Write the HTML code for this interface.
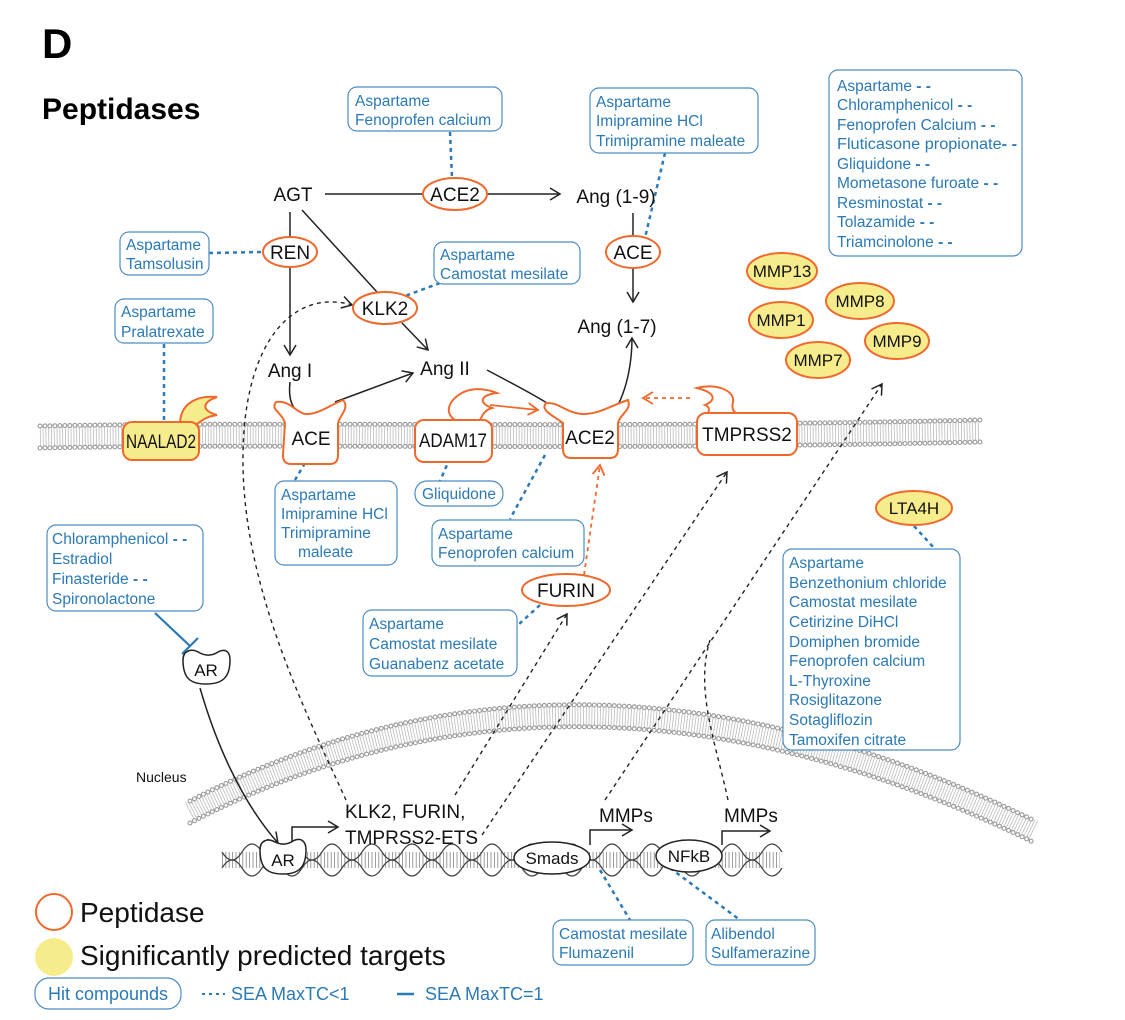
<!DOCTYPE html>
<html><head><meta charset="utf-8"><style>
html,body{margin:0;padding:0;background:#fff}
svg{display:block}
text{font-family:"Liberation Sans",Arial,sans-serif}
.b{fill:#2b79b5;font-size:15.5px}
.n{fill:#111;font-size:19px}
.m{fill:#111;font-size:17px}
.box{fill:#fff;stroke:#4a8cc4;stroke-width:1.2}
.pe{fill:#fff;stroke:#f0692c;stroke-width:2}
.py{fill:#f6ec8c;stroke:#f0692c;stroke-width:2}
.bd{stroke:#2b79b5;stroke-width:2.5;stroke-dasharray:4 4;fill:none}
.kd{stroke:#222;stroke-width:1.4;stroke-dasharray:4 4;fill:none}
.k{stroke:#222;stroke-width:1.5;fill:none}
</style></head><body>
<svg width="1125" height="1020" viewBox="0 0 1125 1020" xmlns="http://www.w3.org/2000/svg">
<defs>
<marker id="a" markerWidth="14" markerHeight="14" refX="11" refY="7" orient="auto" markerUnits="userSpaceOnUse"><path d="M1,1 L11,7 L1,13" fill="none" stroke="#222" stroke-width="1.5"/></marker>
<marker id="ao" markerWidth="14" markerHeight="14" refX="11" refY="7" orient="auto" markerUnits="userSpaceOnUse"><path d="M1,1 L11,7 L1,13" fill="none" stroke="#f0692c" stroke-width="1.8"/></marker>
</defs>

<text x="42" y="58" font-size="42" font-weight="bold" fill="#000">D</text>
<text x="42" y="119" font-size="30" font-weight="bold" fill="#000">Peptidases</text>

<!-- cell membrane -->
<g>
<path d="M40,437 C300,432 600,440 980,431" stroke="#bbb" stroke-width="22" stroke-dasharray="0.8 2" fill="none"/>
<path d="M40,426 C300,421 600,429 980,420" stroke="#999" stroke-width="5" stroke-dasharray="0 5" stroke-linecap="round" fill="none"/>
<path d="M40,426 C300,421 600,429 980,420" stroke="#fff" stroke-width="2.8" stroke-dasharray="0 5" stroke-linecap="round" fill="none"/>
<path d="M40,448 C300,443 600,451 980,442" stroke="#999" stroke-width="5" stroke-dasharray="0 5" stroke-linecap="round" fill="none"/>
<path d="M40,448 C300,443 600,451 980,442" stroke="#fff" stroke-width="2.8" stroke-dasharray="0 5" stroke-linecap="round" fill="none"/>
</g>
<!-- nucleus membrane -->
<g>
<path d="M190,812 Q580,610 1035,832" stroke="#bbb" stroke-width="22" stroke-dasharray="0.8 2" fill="none"/>
<path d="M190,801 Q580,599 1035,821" stroke="#999" stroke-width="5" stroke-dasharray="0 5" stroke-linecap="round" fill="none"/>
<path d="M190,801 Q580,599 1035,821" stroke="#fff" stroke-width="2.8" stroke-dasharray="0 5" stroke-linecap="round" fill="none"/>
<path d="M190,823 Q580,621 1035,843" stroke="#999" stroke-width="5" stroke-dasharray="0 5" stroke-linecap="round" fill="none"/>
<path d="M190,823 Q580,621 1035,843" stroke="#fff" stroke-width="2.8" stroke-dasharray="0 5" stroke-linecap="round" fill="none"/>
</g>
<text x="136" y="782" font-size="14" fill="#111">Nucleus</text>

<!-- DNA -->
<g>
<path d="M222,860 L780,860" stroke="#666" stroke-width="16" stroke-dasharray="0.8 2.6" fill="none" opacity="0.8"/>
<path d="M222,868 q10,-16 20,0 q10,16 20,0 q10,-16 20,0 q10,16 20,0 q10,-16 20,0 q10,16 20,0 q10,-16 20,0 q10,16 20,0 q10,-16 20,0 q10,16 20,0 q10,-16 20,0 q10,16 20,0 q10,-16 20,0 q10,16 20,0 q10,-16 20,0 q10,16 20,0 q10,-16 20,0 q10,16 20,0 q10,-16 20,0 q10,16 20,0 q10,-16 20,0 q10,16 20,0 q10,-16 20,0 q10,16 20,0 q10,-16 20,0 q10,16 20,0 q10,-16 20,0 q10,16 20,0" stroke="#444" stroke-width="1.2" fill="none"/>
<path d="M222,852 q10,16 20,0 q10,-16 20,0 q10,16 20,0 q10,-16 20,0 q10,16 20,0 q10,-16 20,0 q10,16 20,0 q10,-16 20,0 q10,16 20,0 q10,-16 20,0 q10,16 20,0 q10,-16 20,0 q10,16 20,0 q10,-16 20,0 q10,16 20,0 q10,-16 20,0 q10,16 20,0 q10,-16 20,0 q10,16 20,0 q10,-16 20,0 q10,16 20,0 q10,-16 20,0 q10,16 20,0 q10,-16 20,0 q10,16 20,0 q10,-16 20,0 q10,16 20,0 q10,-16 20,0" stroke="#444" stroke-width="1.2" fill="none"/>
</g>

<!-- black dashed long connectors -->
<path class="kd" d="M346,800 C300,700 230,560 245,420 C255,330 300,290 352,305" marker-end="url(#a)"/>
<path class="kd" d="M455,795 L567,614" marker-end="url(#a)"/>
<path class="kd" d="M482,835 L727,472" marker-end="url(#a)"/>
<path class="kd" d="M605,800 L882,384" marker-end="url(#a)"/>
<path class="kd" d="M728,800 C715,740 695,690 710,640"/>

<!-- solid pathway lines -->
<path class="k" d="M325,194 L422,194"/>
<path class="k" d="M488,194 L560,194" marker-end="url(#a)"/>
<path class="k" d="M290,212 L290,237"/>
<path class="k" d="M290,268 L290,355" marker-end="url(#a)"/>
<path class="k" d="M302,210 L377,292"/>
<path class="k" d="M402,323 L428,350" marker-end="url(#a)"/>
<path class="k" d="M633,213 L633,236"/>
<path class="k" d="M633,268 L633,302" marker-end="url(#a)"/>
<path class="k" d="M290,382 C288,400 292,410 305,418"/>
<path class="k" d="M335,402 L413,373" marker-end="url(#a)"/>
<path class="k" d="M487,370 C515,385 535,395 550,405"/>
<path class="k" d="M618,405 C628,385 632,360 632,338" marker-end="url(#a)"/>
<path class="k" d="M200,688 C215,740 240,800 278,843" marker-end="url(#a)"/>
<path class="k" d="M292,843 L292,827 L338,827" marker-end="url(#a)"/>
<path class="k" d="M590,845 L590,830 L632,830" marker-end="url(#a)"/>
<path class="k" d="M722,845 L722,831 L770,831" marker-end="url(#a)"/>

<!-- orange arrows -->
<path d="M490,405 L538,410" stroke="#f0692c" stroke-width="1.8" fill="none" marker-end="url(#ao)"/>
<path d="M690,398 L643,398" stroke="#f0692c" stroke-width="1.8" stroke-dasharray="4 4" fill="none" marker-end="url(#ao)"/>
<path d="M584,575 L600,465" stroke="#f0692c" stroke-width="1.8" stroke-dasharray="4 4" fill="none" marker-end="url(#ao)"/>

<!-- blue connectors -->
<path class="bd" d="M450,132 L452,178"/>
<path class="bd" d="M665,153 L645,238"/>
<path class="bd" d="M209,253 L262,252"/>
<path class="bd" d="M440,283 L405,296"/>
<path class="bd" d="M164,344 L164,424"/>
<path class="bd" d="M305,463 L295,480"/>
<path class="bd" d="M450,458 L440,481"/>
<path class="bd" d="M545,455 L510,519"/>
<path class="bd" d="M540,605 L518,625"/>
<path class="bd" d="M914,526 L935,549"/>
<path class="bd" d="M600,870 L630,920"/>
<path class="bd" d="M670,868 L740,920"/>
<path d="M155,613 L190,646 M182,654 L198,638" stroke="#2b79b5" stroke-width="2.2" fill="none"/>

<!-- peptidase ellipses -->
<ellipse class="pe" cx="455" cy="194" rx="32" ry="16"/><text class="n" x="455" y="201" text-anchor="middle">ACE2</text>
<ellipse class="pe" cx="290" cy="252" rx="27" ry="15"/><text class="n" x="290" y="259" text-anchor="middle">REN</text>
<ellipse class="pe" cx="385" cy="308" rx="32" ry="16"/><text class="n" x="385" y="315" text-anchor="middle">KLK2</text>
<ellipse class="pe" cx="633" cy="252" rx="27" ry="16"/><text class="n" x="633" y="259" text-anchor="middle">ACE</text>
<ellipse class="pe" cx="566" cy="590" rx="44" ry="16"/><text class="n" x="566" y="597" text-anchor="middle">FURIN</text>
<text class="n" x="293" y="201" text-anchor="middle">AGT</text>
<text class="n" x="616" y="203" text-anchor="middle">Ang (1-9)</text>
<text class="n" x="617" y="333" text-anchor="middle">Ang (1-7)</text>
<text class="n" x="290" y="377" text-anchor="middle">Ang I</text>
<text class="n" x="445" y="375" text-anchor="middle">Ang II</text>

<!-- MMPs -->
<ellipse class="py" cx="782" cy="271" rx="35" ry="18"/><text class="m" x="782" y="277" text-anchor="middle">MMP13</text>
<ellipse class="py" cx="860" cy="301" rx="34" ry="18"/><text class="m" x="860" y="307" text-anchor="middle">MMP8</text>
<ellipse class="py" cx="781" cy="320" rx="32" ry="18"/><text class="m" x="781" y="326" text-anchor="middle">MMP1</text>
<ellipse class="py" cx="897" cy="341" rx="32" ry="18"/><text class="m" x="897" y="347" text-anchor="middle">MMP9</text>
<ellipse class="py" cx="818" cy="360" rx="32" ry="18"/><text class="m" x="818" y="366" text-anchor="middle">MMP7</text>
<ellipse class="py" cx="914" cy="508" rx="38" ry="17"/><text class="m" x="914" y="514" text-anchor="middle">LTA4H</text>

<!-- membrane proteins -->
<path class="py" d="M180,424 C180,405 195,395 217,397 C203,402 200,410 217,415 C205,417 203,420 197,424 Z"/>
<rect class="py" x="123" y="422" width="76" height="38" rx="9"/><text class="n" x="161" y="448" text-anchor="middle" textLength="70" lengthAdjust="spacingAndGlyphs">NAALAD2</text>
<path class="pe" d="M285,423 C282,412 270,410 276,402 C290,400 295,412 305,414 C318,415 330,405 343,400 C350,408 340,415 338,423 L338,455 Q338,464 330,464 L291,464 Q283,464 283,455 Z"/>
<text class="n" x="311" y="445" text-anchor="middle">ACE</text>
<path class="pe" d="M455,420 C440,410 455,393 470,390 C478,388 490,390 497,393 C480,395 478,403 492,408 C485,410 483,414 480,420 Z"/>
<rect class="pe" x="415" y="420" width="77" height="42" rx="9"/><text class="n" x="453" y="447" text-anchor="middle" textLength="68" lengthAdjust="spacingAndGlyphs">ADAM17</text>
<path class="pe" d="M563,423 C552,415 540,410 546,403 C560,402 565,413 583,414 C600,414 612,405 628,400 C632,410 620,414 618,423 L618,449 Q618,458 610,458 L571,458 Q563,458 563,449 Z"/>
<text class="n" x="590" y="444" text-anchor="middle">ACE2</text>
<path class="pe" d="M703,423 C707,414 713,408 705,405 C713,402 720,394 697,388 C715,383 735,390 733,402 C731,410 735,414 740,414 L745,414"/>
<rect class="pe" x="697" y="413" width="100" height="42" rx="9"/><text class="n" x="747" y="441" text-anchor="middle">TMPRSS2</text>

<!-- AR -->
<path d="M183,660 C183,650 192,648 200,653 C206,656 212,656 218,652 C226,648 230,652 230,660 C230,678 222,684 206,684 C190,684 183,678 183,660 Z" fill="#fff" stroke="#222" stroke-width="1.5"/>
<text class="m" x="206" y="676" text-anchor="middle">AR</text>
<path d="M260,850 C260,840 268,838 275,842 C281,845 287,845 293,841 C301,837 306,841 306,850 C306,868 298,874 283,874 C267,874 260,868 260,850 Z" fill="#fff" stroke="#222" stroke-width="1.5"/>
<text class="m" x="283" y="866" text-anchor="middle">AR</text>
<ellipse cx="552" cy="858" rx="38" ry="16" fill="#fff" stroke="#222" stroke-width="1.5"/><text class="m" x="552" y="864" text-anchor="middle">Smads</text>
<ellipse cx="689" cy="856" rx="33" ry="16" fill="#fff" stroke="#222" stroke-width="1.5"/><text class="m" x="689" y="862" text-anchor="middle">NFkB</text>
<text class="n" x="345" y="818">KLK2, FURIN,</text>
<text class="n" x="345" y="844">TMPRSS2-ETS</text>
<text class="n" x="599" y="822">MMPs</text>
<text class="n" x="724" y="822">MMPs</text>

<!-- boxes -->
<rect class="box" x="348" y="87" width="154" height="44" rx="9"/>
<text class="b" x="355" y="106">Aspartame</text><text class="b" x="355" y="125">Fenoprofen calcium</text>

<rect class="box" x="590" y="88" width="168" height="65" rx="9"/>
<text class="b" x="596" y="107">Aspartame</text><text class="b" x="596" y="126">Imipramine HCl</text><text class="b" x="596" y="146">Trimipramine maleate</text>

<rect class="box" x="829" y="70" width="193" height="186" rx="9"/>
<text class="b" x="837" y="91">Aspartame <tspan font-weight="bold">- -</tspan></text>
<text class="b" x="837" y="110">Chloramphenicol <tspan font-weight="bold">- -</tspan></text>
<text class="b" x="837" y="130">Fenoprofen Calcium <tspan font-weight="bold">- -</tspan></text>
<text class="b" x="837" y="149" textLength="180" lengthAdjust="spacingAndGlyphs">Fluticasone propionate<tspan font-weight="bold">- -</tspan></text>
<text class="b" x="837" y="169">Gliquidone <tspan font-weight="bold">- -</tspan></text>
<text class="b" x="837" y="188">Mometasone furoate <tspan font-weight="bold">- -</tspan></text>
<text class="b" x="837" y="208">Resminostat <tspan font-weight="bold">- -</tspan></text>
<text class="b" x="837" y="227">Tolazamide <tspan font-weight="bold">- -</tspan></text>
<text class="b" x="837" y="247">Triamcinolone <tspan font-weight="bold">- -</tspan></text>

<rect class="box" x="120" y="232" width="89" height="43" rx="9"/>
<text class="b" x="126" y="250">Aspartame</text><text class="b" x="126" y="269">Tamsolusin</text>

<rect class="box" x="434" y="242" width="146" height="42" rx="9"/>
<text class="b" x="440" y="260">Aspartame</text><text class="b" x="440" y="279">Camostat mesilate</text>

<rect class="box" x="115" y="299" width="98" height="44" rx="9"/>
<text class="b" x="121" y="317">Aspartame</text><text class="b" x="121" y="337">Pralatrexate</text>

<rect class="box" x="275" y="481" width="122" height="84" rx="9"/>
<text class="b" x="281" y="500">Aspartame</text><text class="b" x="281" y="519">Imipramine HCl</text>
<text class="b" x="281" y="538">Trimipramine</text><text class="b" x="298" y="557">maleate</text>

<rect class="box" x="415" y="481" width="88" height="25" rx="12"/>
<text class="b" x="459" y="499" text-anchor="middle">Gliquidone</text>

<rect class="box" x="432" y="520" width="152" height="46" rx="9"/>
<text class="b" x="438" y="539">Aspartame</text><text class="b" x="438" y="558">Fenoprofen calcium</text>

<rect class="box" x="363" y="610" width="154" height="66" rx="9"/>
<text class="b" x="369" y="629">Aspartame</text><text class="b" x="369" y="649">Camostat mesilate</text><text class="b" x="369" y="669">Guanabenz acetate</text>

<rect class="box" x="47" y="525" width="156" height="86" rx="9"/>
<text class="b" x="52" y="544">Chloramphenicol <tspan font-weight="bold">- -</tspan></text>
<text class="b" x="52" y="564">Estradiol</text>
<text class="b" x="52" y="584">Finasteride <tspan font-weight="bold">- -</tspan></text>
<text class="b" x="52" y="604">Spironolactone</text>

<rect class="box" x="783" y="549" width="177" height="201" rx="9"/>
<text class="b" x="789" y="568">Aspartame</text>
<text class="b" x="789" y="588">Benzethonium chloride</text>
<text class="b" x="789" y="607">Camostat mesilate</text>
<text class="b" x="789" y="627">Cetirizine DiHCl</text>
<text class="b" x="789" y="647">Domiphen bromide</text>
<text class="b" x="789" y="666">Fenoprofen calcium</text>
<text class="b" x="789" y="686">L-Thyroxine</text>
<text class="b" x="789" y="705">Rosiglitazone</text>
<text class="b" x="789" y="725">Sotagliflozin</text>
<text class="b" x="789" y="745">Tamoxifen citrate</text>

<rect class="box" x="553" y="920" width="140" height="45" rx="9"/>
<text class="b" x="559" y="939">Camostat mesilate</text><text class="b" x="559" y="958">Flumazenil</text>
<rect class="box" x="706" y="920" width="109" height="45" rx="9"/>
<text class="b" x="711" y="939">Alibendol</text><text class="b" x="711" y="958">Sulfamerazine</text>

<!-- legend -->
<circle cx="54" cy="912" r="18" fill="#fff" stroke="#f0692c" stroke-width="2"/>
<text x="80" y="922" font-size="28" fill="#111">Peptidase</text>
<circle cx="54" cy="957" r="19" fill="#f6ec8c"/>
<text x="80" y="965" font-size="28" fill="#111">Significantly predicted targets</text>
<rect class="box" x="35" y="978" width="146" height="31" rx="14"/>
<text x="108" y="1000" font-size="18" fill="#2b79b5" text-anchor="middle">Hit compounds</text>
<path d="M202,994 L225,994" stroke="#2b79b5" stroke-width="2" stroke-dasharray="3 4"/>
<text x="231" y="1000" font-size="18" fill="#2b79b5">SEA MaxTC&lt;1</text>
<path d="M397,994 L414,994" stroke="#2b79b5" stroke-width="2.5"/>
<text x="425" y="1000" font-size="18" fill="#2b79b5">SEA MaxTC=1</text>
</svg>
</body></html>
